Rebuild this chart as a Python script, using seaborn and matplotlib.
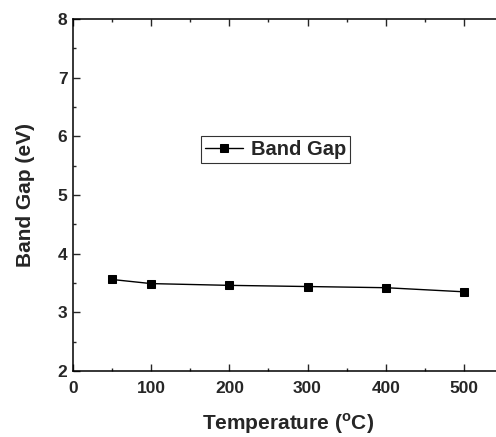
import numpy as np
import pandas as pd
import seaborn as sns
import matplotlib.pyplot as plt
from matplotlib.ticker import MultipleLocator

# Data
temperature = [50, 100, 200, 300, 400, 500]
band_gap = [3.56, 3.49, 3.46, 3.44, 3.42, 3.35]
series_name = "Band Gap"

df = pd.DataFrame({"Temperature": temperature, "BandGap": band_gap, "Series": series_name})

sns.set_style("ticks")
plt.rcParams["font.family"] = ["Liberation Sans", "DejaVu Sans"]
plt.rcParams["font.weight"] = "bold"
plt.rcParams["mathtext.fontset"] = "custom"
plt.rcParams["mathtext.rm"] = "Liberation Sans"
plt.rcParams["mathtext.bf"] = "Liberation Sans:bold"

fig = plt.figure(figsize=(4.96, 4.37), dpi=100)
# axes deliberately runs past the right edge, like the original export
ax = fig.add_axes([0.1472, 0.151, 0.867, 0.8055])

sns.lineplot(data=df, x="Temperature", y="BandGap", hue="Series", palette=["black"],
             marker="s", markersize=5.5, markeredgecolor="black", linewidth=1.0, ax=ax)

ax.set_xlim(0, 550)
ax.set_ylim(2, 8)
ax.xaxis.set_major_locator(MultipleLocator(100))
ax.xaxis.set_minor_locator(MultipleLocator(50))
ax.yaxis.set_major_locator(MultipleLocator(1))
ax.yaxis.set_minor_locator(MultipleLocator(0.5))
ax.tick_params(which="both", direction="in", top=True, right=True, width=1.0, labelsize=12.5)
ax.tick_params(axis="x", pad=7.5)
ax.tick_params(axis="y", pad=4)
ax.tick_params(which="major", length=5)
ax.tick_params(which="minor", length=2.5)
for lbl in ax.get_xticklabels() + ax.get_yticklabels():
    lbl.set_fontweight("bold")
for s in ax.spines.values():
    s.set_linewidth(1.1)
    s.set_color("black")

ax.set_xlabel(r"Temperature ($^{\rm o}$C)", fontsize=15, fontweight="bold", labelpad=11)
ax.set_ylabel("Band Gap (eV)", fontsize=15, fontweight="bold", labelpad=16)

leg = ax.legend(loc="upper left", bbox_to_anchor=(0.297, 0.668), fontsize=14.5, frameon=True,
                fancybox=False, edgecolor="black", handlelength=1.9, handletextpad=0.4,
                borderpad=0.2, borderaxespad=0)
leg.get_frame().set_linewidth(0.8)
for t in leg.get_texts():
    t.set_fontweight("bold")

fig.savefig("out.png", dpi=100)
